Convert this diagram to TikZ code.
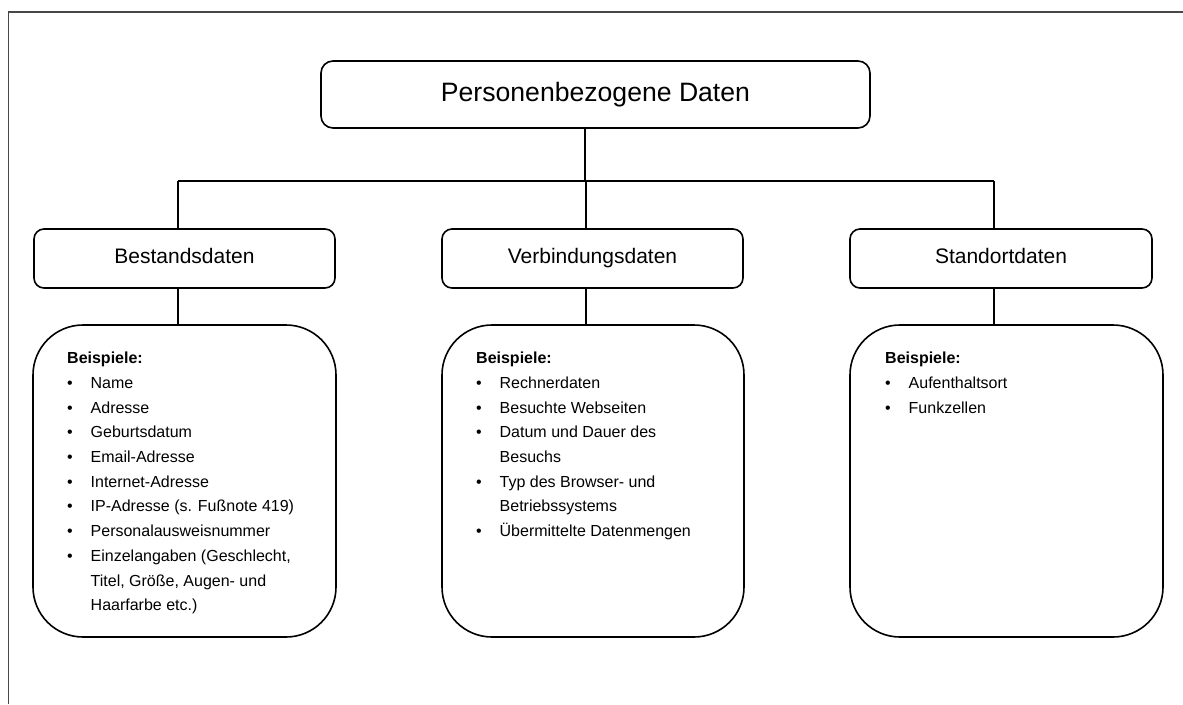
\documentclass[tikz,border=0pt]{standalone}
\usepackage{fontspec}
\setmainfont{Liberation Sans}

% bullet lists inside the example boxes
\newcommand\listhead{\hbox{\textbf{Beispiele:}}}
\newcommand\li[1]{\hbox{\makebox[23.5pt][l]{•}#1}}
\newcommand\lc[1]{\hbox{\hspace*{23.5pt}#1}}
\newcommand\examplelist[1]{\vtop{\baselineskip=24.7pt\listhead#1}}

\tikzset{
  frame/.style={draw=black!72, line width=1.3pt},
  toplevel/.style={draw, line width=1.6pt, rounded corners=12pt,
    minimum width=549pt, minimum height=67pt, inner sep=0pt,
    text height=19pt, text depth=5.5pt,
    font=\fontsize{26.6}{30}\selectfont},
  category/.style={draw, line width=1.6pt, rounded corners=10pt,
    minimum height=59pt, inner sep=0pt,
    text height=15pt, text depth=4.4pt,
    font=\fontsize{21}{25}\selectfont},
  examples/.style={draw, line width=1.6pt, rounded corners=50pt,
    minimum height=312pt, inner sep=0pt},
  listtext/.style={anchor=base west, inner sep=0pt,
    font=\fontsize{16}{24.7}\selectfont},
  link/.style={line width=1.6pt},
}

\begin{document}
\begin{tikzpicture}[x=1pt,y=-1pt]
\useasboundingbox (0,0) rectangle (1183,704);

% outer frame (only its left and top edges fall on the page)
\draw[frame] (1183,12) -- (8.5,12) -- (8.5,704);

% root
\node[toplevel] (root) at (595.5,94.5) {Personenbezogene Daten};

% categories
\node[category, minimum width=301pt] (bestand) at (184.5,258.5) {Bestandsdaten};
\node[category, minimum width=301pt] (verbind) at (592.5,258.5) {Verbindungsdaten};
\node[category, minimum width=302pt] (standort) at (1001,258.5) {Standortdaten};

% example boxes
\node[examples, minimum width=303pt] (exA) at (184.5,481) {};
\node[examples, minimum width=302pt] (exB) at (593,481) {};
\node[examples, minimum width=313pt] (exC) at (1006.5,481) {};

% example lists
\node[listtext] (listA) at (67,363.7) {\examplelist{%
  \li{Name}\li{Adresse}\li{Geburtsdatum}\li{Email-Adresse}%
  \li{Internet-Adresse}\li{IP-Adresse (s. Fußnote 419)}%
  \li{Personalausweisnummer}\li{Einzelangaben (Geschlecht,}%
  \lc{Titel, Größe, Augen- und}\lc{Haarfarbe etc.)}}};
\node[listtext] (listB) at (476,363.7) {\examplelist{%
  \li{Rechnerdaten}\li{Besuchte Webseiten}\li{Datum und Dauer des}%
  \lc{Besuchs}\li{Typ des Browser- und}\lc{Betriebssystems}%
  \li{Übermittelte Datenmengen}}};
\node[listtext] (listC) at (885,363.7) {\examplelist{%
  \li{Aufenthaltsort}\li{Funkzellen}}};

% connector columns and bus
\coordinate (bus) at (585,181);
\coordinate (colA) at (178,0);
\coordinate (colB) at (586,0);
\coordinate (colC) at (994,0);

\draw[link] (bus |- root.south) -- (bus);
\draw[link] (colA |- bus) -- (colC |- bus);
\draw[link] (colA |- bus) -- (colA |- bestand.north);
\draw[link] (colB |- bus) -- (colB |- verbind.north);
\draw[link] (colC |- bus) -- (colC |- standort.north);
\draw[link] (colA |- bestand.south) -- (colA |- exA.north);
\draw[link] (colB |- verbind.south) -- (colB |- exB.north);
\draw[link] (colC |- standort.south) -- (colC |- exC.north);
\end{tikzpicture}
\end{document}
